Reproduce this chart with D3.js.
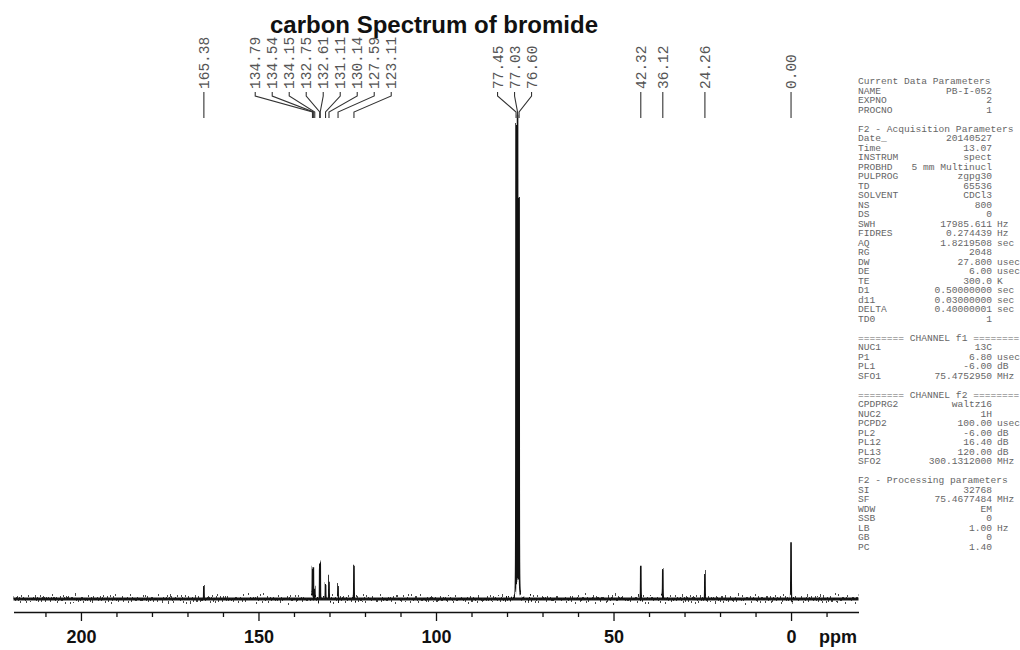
<!DOCTYPE html>
<html>
<head>
<meta charset="utf-8">
<script src="https://cdn.jsdelivr.net/npm/d3@7"></script>
<style>
  html, body { margin: 0; background: #fff; }
  svg { display: block; }
</style>
</head>
<body>
<svg id="chart" width="1020" height="650"></svg>
<script>
// 13C peak list: chemical shift (ppm) and relative intensity (tallest = 100)
const shifts  = [165.38, 134.79, 134.54, 134.15, 132.75, 132.61, 131.11, 130.14, 127.59, 123.11,
                 77.45, 77.03, 76.60, 42.32, 36.12, 24.26, 0.00];
const heights = [2.9, 6.2, 6.7, 2.5, 7.3, 6.9, 3.3, 4.2, 3.3, 6.7,
                 97.7, 100, 83, 7.1, 6.0, 5.6, 11.6];

// axis ticks (ppm)
const majorTicks = [200, 150, 100, 50, 0];
const minorTicks = [210, 190, 180, 170, 160, 140, 130, 120, 110, 90, 80, 70, 60, 40, 30, 20, 10, -10];

// acquisition / processing parameter listing
const paramRows = [
  ["Current Data Parameters"],
  ["NAME", "PB-I-052", ""],
  ["EXPNO", "2", ""],
  ["PROCNO", "1", ""],
  null,
  ["F2 - Acquisition Parameters"],
  ["Date_", "20140527", ""],
  ["Time", "13.07", ""],
  ["INSTRUM", "spect", ""],
  ["PROBHD", "5 mm Multinucl", ""],
  ["PULPROG", "zgpg30", ""],
  ["TD", "65536", ""],
  ["SOLVENT", "CDCl3", ""],
  ["NS", "800", ""],
  ["DS", "0", ""],
  ["SWH", "17985.611", "Hz"],
  ["FIDRES", "0.274439", "Hz"],
  ["AQ", "1.8219508", "sec"],
  ["RG", "2048", ""],
  ["DW", "27.800", "usec"],
  ["DE", "6.00", "usec"],
  ["TE", "300.0", "K"],
  ["D1", "0.50000000", "sec"],
  ["d11", "0.03000000", "sec"],
  ["DELTA", "0.40000001", "sec"],
  ["TD0", "1", ""],
  null,
  ["======== CHANNEL f1 ========"],
  ["NUC1", "13C", ""],
  ["P1", "6.80", "usec"],
  ["PL1", "-6.00", "dB"],
  ["SFO1", "75.4752950", "MHz"],
  null,
  ["======== CHANNEL f2 ========"],
  ["CPDPRG2", "waltz16", ""],
  ["NUC2", "1H", ""],
  ["PCPD2", "100.00", "usec"],
  ["PL2", "-6.00", "dB"],
  ["PL12", "16.40", "dB"],
  ["PL13", "120.00", "dB"],
  ["SFO2", "300.1312000", "MHz"],
  null,
  ["F2 - Processing parameters"],
  ["SI", "32768", ""],
  ["SF", "75.4677484", "MHz"],
  ["WDW", "EM", ""],
  ["SSB", "0", ""],
  ["LB", "1.00", "Hz"],
  ["GB", "0", ""],
  ["PC", "1.40", ""]
];

const svg = d3.select("#chart");
svg.append("rect").attr("width", 1020).attr("height", 650).attr("fill", "#fff");

const x = d3.scaleLinear().domain([219, -19]).range([13.5, 858.5]);
const y = d3.scaleLinear().domain([0, 100]).range([599, 118]);

// ---- baseline noise texture (vertical displacement only) ----
const defs = svg.append("defs");
const filt = defs.append("filter")
  .attr("id", "baseNoise")
  .attr("filterUnits", "userSpaceOnUse")
  .attr("x", 0).attr("y", 90).attr("width", 880).attr("height", 530)
  .attr("color-interpolation-filters", "sRGB");
filt.append("feTurbulence")
  .attr("type", "fractalNoise")
  .attr("baseFrequency", "0.6 0.015")
  .attr("numOctaves", 3)
  .attr("seed", 11)
  .attr("result", "turb");
filt.append("feColorMatrix")
  .attr("in", "turb")
  .attr("type", "matrix")
  .attr("values", "0 0 0 0 0.5  0 1 0 0 0  0 0 0 0 0  0 0 0 0 1")
  .attr("result", "disp");
filt.append("feDisplacementMap")
  .attr("in", "SourceGraphic")
  .attr("in2", "disp")
  .attr("scale", 17)
  .attr("xChannelSelector", "R")
  .attr("yChannelSelector", "G");

// ---- spectrum trace: Lorentzian lines on a fine ppm grid ----
const hw = 0.03;
const grid = d3.range(219, -19, -0.025);
shifts.forEach(s => grid.push(s, s - 0.012, s + 0.012));
grid.sort((a, b) => b - a);
const intensity = p => {
  let v = 0;
  for (let i = 0; i < shifts.length; i++) {
    const d = p - shifts[i];
    v += heights[i] * hw * hw / (d * d + hw * hw);
  }
  return v;
};
const trace = grid.map(p => [p, intensity(p)]);
const line = d3.line().x(d => x(d[0])).y(d => y(d[1]));

// flat baseline band underneath the jittered trace
svg.append("line")
  .attr("x1", x(219)).attr("x2", x(-19))
  .attr("y1", y(0)).attr("y2", y(0))
  .attr("stroke", "#1a1a1a")
  .attr("stroke-width", 3);

svg.append("path")
  .attr("d", line(trace))
  .attr("fill", "none")
  .attr("stroke", "#111")
  .attr("stroke-width", 1.6)
  .attr("filter", "url(#baseNoise)");

// ---- ppm axis ----
const axisY = 612;
const minorAxis = d3.axisBottom(x).tickValues(minorTicks).tickSize(5).tickSizeOuter(0).tickFormat("");
const majorAxis = d3.axisBottom(x).tickValues(majorTicks).tickSize(9).tickSizeOuter(0).tickPadding(9)
  .tickFormat(d3.format("d"));

const gMinor = svg.append("g").attr("transform", `translate(0,${axisY})`).call(minorAxis);
gMinor.select(".domain").remove();
const gMajor = svg.append("g").attr("transform", `translate(0,${axisY})`).call(majorAxis);
gMajor.select(".domain").attr("stroke", "#111").attr("stroke-width", 1.3);
svg.selectAll(".tick line").attr("stroke", "#111").attr("stroke-width", 1.3);
gMajor.selectAll(".tick text")
  .attr("font-family", "'Liberation Sans', Arial, sans-serif")
  .attr("font-weight", "bold")
  .attr("font-size", 18)
  .attr("fill", "#111");

svg.append("text")
  .attr("x", 838).attr("y", 643)
  .attr("text-anchor", "middle")
  .attr("font-family", "'Liberation Sans', Arial, sans-serif")
  .attr("font-weight", "bold")
  .attr("font-size", 18)
  .attr("fill", "#111")
  .text("ppm");

// ---- title ----
svg.append("text")
  .attr("x", 434).attr("y", 33)
  .attr("text-anchor", "middle")
  .attr("font-family", "'Liberation Sans', Arial, sans-serif")
  .attr("font-weight", "bold")
  .attr("font-size", 24)
  .attr("fill", "#111")
  .text("carbon Spectrum of bromide");

// ---- peak labels with leader lines ----
const pitch = 17;
const peaks = shifts.map((s, i) => ({ s, px: x(s) })).sort((a, b) => a.px - b.px);
const clusters = [];
peaks.forEach(p => {
  const last = clusters[clusters.length - 1];
  if (last && p.px - last[last.length - 1].px < pitch) last.push(p);
  else clusters.push([p]);
});
clusters.forEach(c => {
  const centre = c.length > 3 ? d3.median(c, p => p.px) + 3 : d3.median(c, p => p.px) - 3;
  c.forEach((p, i) => { p.lx = c.length === 1 ? p.px : centre + (i - (c.length - 1) / 2) * pitch; });
});

const labelG = svg.append("g");
peaks.forEach(p => {
  labelG.append("path")
    .attr("d", `M${p.lx},92 V96 L${p.px},112 V118`)
    .attr("fill", "none")
    .attr("stroke", "#333")
    .attr("stroke-width", 1.1);
  labelG.append("text")
    .attr("transform", `translate(${p.lx},89) rotate(-90)`)
    .attr("dy", "0.36em")
    .attr("font-family", "'Liberation Mono', 'DejaVu Sans Mono', monospace")
    .attr("font-size", 14.5)
    .attr("fill", "#555")
    .text(p.s.toFixed(2));
});

// ---- parameter listing ----
const panel = svg.append("g")
  .attr("font-family", "'Liberation Mono', 'DejaVu Sans Mono', monospace")
  .attr("font-size", 9.6)
  .attr("fill", "#666");
paramRows.forEach((r, i) => {
  if (!r) return;
  const yy = 84.3 + i * 9.5;
  panel.append("text").attr("x", 858).attr("y", yy).text(r[0]);
  if (r.length === 1) return;
  panel.append("text").attr("x", 992).attr("y", yy).attr("text-anchor", "end").text(r[1]);
  if (r[2]) panel.append("text").attr("x", 997).attr("y", yy).text(r[2]);
});
</script>
</body>
</html>
